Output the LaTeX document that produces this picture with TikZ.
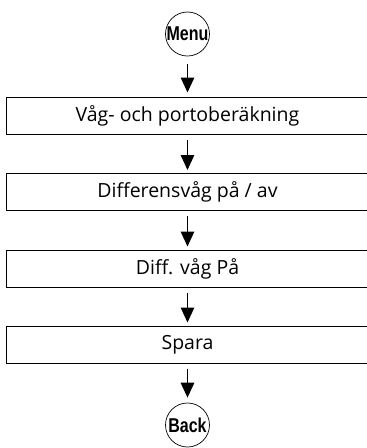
\documentclass[tikz,border=0pt]{standalone}
\usepackage{fontspec}
\setmainfont{Open Sans}
\newfontfamily\condfont{Liberation Sans Bold}[FakeStretch=0.8]
\usetikzlibrary{arrows.meta}
\begin{document}
\begin{tikzpicture}[x=1pt,y=-1pt,
  stepbox/.style={draw,line width=1pt,minimum width=363pt,minimum height=37pt,inner sep=0pt,font=\fontsize{19.5}{22}\selectfont},
  roundkey/.style={draw,circle,line width=0.7pt,inner sep=0pt,font=\condfont\fontsize{20}{22}\selectfont},
  flow/.style={line width=1.4pt,-{Triangle[width=13.5pt,length=15pt]}}]
\useasboundingbox (0,0) rectangle (367,448);
\clip (0,0) rectangle (367,448);
\node[roundkey,minimum size=40pt] (menu) at (187.5,34) {Menu};
\node[stepbox] (s1) at (187.5,115.5) {Våg- och portoberäkning};
\node[stepbox] (s2) at (187.5,192) {Differensvåg på / av};
\node[stepbox] (s3) at (187.5,268.5) {Diff. våg På};
\node[stepbox] (s4) at (187.5,344.5) {Spara};
\node[roundkey,minimum size=44pt] (back) at (187.5,425) {Back};
\draw[flow,shorten <=8pt,shorten >=4pt] (menu) -- (s1);
\draw[flow,shorten <=5pt,shorten >=3pt] (s1) -- (s2);
\draw[flow,shorten <=5pt,shorten >=3pt] (s2) -- (s3);
\draw[flow,shorten <=5pt,shorten >=3pt] (s3) -- (s4);
\draw[flow,shorten <=5pt,shorten >=5pt] (s4) -- (back);
\end{tikzpicture}
\end{document}
